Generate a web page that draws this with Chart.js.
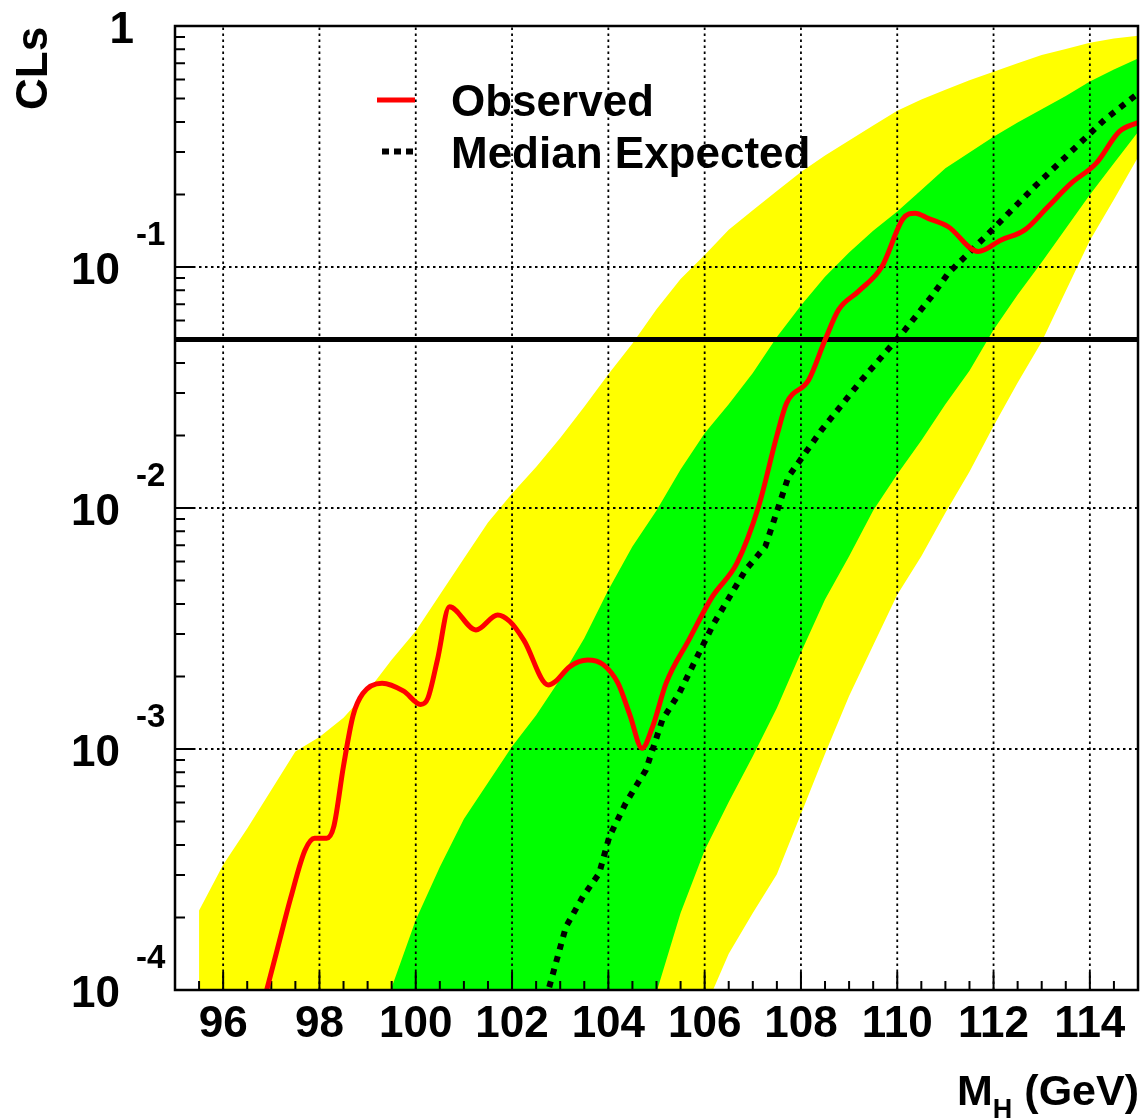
<!DOCTYPE html>
<html>
<head>
<meta charset="utf-8">
<title>CLs vs Higgs mass</title>
<script src="https://cdn.jsdelivr.net/npm/chart.js@4/dist/chart.umd.min.js"></script>
<style>
  html, body { margin: 0; padding: 0; background: #ffffff; }
  #wrap { position: relative; width: 1144px; height: 1119px; }
</style>
</head>
<body>
<div id="wrap"><canvas id="cls"></canvas></div>
<script>
// ---- Data: Higgs mass (GeV) and log10(CLs) ----

// common mass grid for the expected-CLs bands
const bandMass = [95.5, 96, 96.5, 97, 97.5, 98, 98.5, 99, 99.5, 100,
                  100.5, 101, 101.5, 102, 102.5, 103, 103.5, 104, 104.5, 105,
                  105.5, 106, 106.5, 107, 107.5, 108, 108.5, 109, 109.5, 110,
                  110.5, 111, 111.5, 112, 112.5, 113, 113.5, 114, 114.5, 115];

// +-2 sigma band (yellow); -6 means far below the plotted range
const yellowHighLog = [-3.67, -3.48, -3.33, -3.17, -3.01, -2.95, -2.87, -2.76, -2.63, -2.51,
                       -2.36, -2.21, -2.06, -1.94, -1.83, -1.71, -1.58, -1.445, -1.317, -1.175,
                       -1.05, -0.95, -0.845, -0.765, -0.685, -0.606, -0.537, -0.475, -0.413, -0.352,
                       -0.305, -0.265, -0.225, -0.19, -0.155, -0.12, -0.095, -0.07, -0.052, -0.04];
const yellowLowLog  = [-6, -6, -6, -6, -6, -6, -6, -6, -6, -6,
                       -6, -6, -6, -6, -6, -6, -6, -6, -6, -6,
                       -6, -4.08, -3.85, -3.68, -3.52, -3.27, -3.02, -2.78, -2.57, -2.36,
                       -2.20, -2.02, -1.85, -1.66, -1.48, -1.31, -1.10, -0.89, -0.72, -0.545];

// +-1 sigma band (green)
const greenHighLog  = [-6, -6, -6, -6, -6, -6, -6, -4.27, -3.99, -3.71,
                       -3.49, -3.29, -3.14, -2.99, -2.86, -2.71, -2.54, -2.34, -2.16, -2.01,
                       -1.84, -1.69, -1.57, -1.44, -1.29, -1.16, -1.04, -0.94, -0.85, -0.77,
                       -0.68, -0.59, -0.525, -0.46, -0.40, -0.345, -0.29, -0.23, -0.18, -0.135];
const greenLowLog   = [-6, -6, -6, -6, -6, -6, -6, -6, -6, -6,
                       -6, -6, -6, -6, -6, -6, -6, -6, -6, -4.01,
                       -3.68, -3.42, -3.22, -3.03, -2.83, -2.60, -2.38, -2.20, -2.01, -1.86,
                       -1.72, -1.57, -1.43, -1.26, -1.115, -0.98, -0.84, -0.70, -0.57, -0.44];

// observed CLs
const observedMass = [96.8, 97.1, 97.4, 97.7, 97.9, 98.15, 98.3, 98.5, 98.7, 98.9,
                      99.3, 99.75, 100.1, 100.25, 100.45, 100.7, 101.25, 101.7, 101.95, 102.25,
                      102.75, 102.9, 103.2, 103.57, 103.9, 104.2, 104.45, 104.7, 104.92, 105.2,
                      105.67, 106.16, 106.67, 107.12, 107.5, 107.7, 108.16, 108.5, 108.78, 109.2,
                      109.68, 110.12, 110.37, 110.64, 111.06, 111.68, 112.16, 112.65, 113.13, 113.61,
                      114.13, 114.61, 115.0];
const observedLog  = [-4.08, -3.85, -3.62, -3.42, -3.37, -3.37, -3.32, -3.07, -2.86, -2.77,
                      -2.727, -2.76, -2.815, -2.79, -2.63, -2.41, -2.506, -2.444, -2.47, -2.55,
                      -2.734, -2.72, -2.658, -2.631, -2.651, -2.727, -2.86, -2.997, -2.907, -2.727,
                      -2.548, -2.368, -2.229, -1.994, -1.70, -1.566, -1.469, -1.303, -1.178, -1.10,
                      -0.999, -0.80, -0.777, -0.798, -0.833, -0.936, -0.888, -0.846, -0.75, -0.653,
                      -0.570, -0.438, -0.40];

// median expected CLs
const expectedMass = [102.7, 103.12, 103.47, 103.81, 104.02, 104.36, 104.78, 105.12, 105.47, 105.88,
                      106.19, 106.85, 107.26, 107.74, 108.43, 109.26, 110.16, 110.71, 111.06, 112.02,
                      112.85, 113.61, 114.3, 115.0];
const expectedLog  = [-4.04, -3.737, -3.613, -3.516, -3.364, -3.225, -3.087, -2.88, -2.769, -2.603,
                      -2.479, -2.257, -2.16, -1.87, -1.676, -1.469, -1.261, -1.123, -1.026, -0.836,
                      -0.667, -0.521, -0.39, -0.28];

// 95% CL exclusion level
const limitCLs = 0.05;

// axes
const massRange = [95, 115];
const xTickValues = [96, 98, 100, 102, 104, 106, 108, 110, 112, 114];
const xTickLabels = ['96', '98', '100', '102', '104', '106', '108', '110', '112', '114'];
const yDecadeExponents = [0, -1, -2, -3, -4];

// ---- Build the chart ----
const FONT = '"Liberation Sans", Arial, Helvetica, sans-serif';
const toPoints = (xs, logs) => xs.map((m, i) => ({ x: m, y: Math.pow(10, logs[i]) }));

const edge = (label, data) => ({
  label, data, borderWidth: 0, borderColor: 'rgba(0,0,0,0)',
  pointRadius: 0, fill: false
});

// ROOT-style frame, inward ticks, dotted grid, labels and legend
const rootStyle = {
  id: 'rootStyle',
  beforeDatasetsDraw(chart) {
    const { ctx, chartArea: a, scales: { x, y } } = chart;
    ctx.save();
    // dotted grid, drawn over the bands and under the curves
    ctx.strokeStyle = '#000';
    ctx.lineWidth = 1.8;
    ctx.setLineDash([2.5, 3.5]);
    ctx.beginPath();
    xTickValues.forEach(v => {
      const px = x.getPixelForValue(v);
      ctx.moveTo(px, a.bottom); ctx.lineTo(px, a.top);
    });
    yDecadeExponents.forEach(e => {
      if (e === 0 || e === -4) return;
      const py = y.getPixelForValue(Math.pow(10, e));
      ctx.moveTo(a.left, py); ctx.lineTo(a.right, py);
    });
    ctx.stroke();
    ctx.setLineDash([]);

    // inward ticks
    ctx.lineWidth = 2;
    ctx.beginPath();
    for (let v = massRange[0] + 0.5; v < massRange[1]; v += 0.5) {
      const px = x.getPixelForValue(v);
      const len = xTickValues.includes(v) ? 18 : 9;
      ctx.moveTo(px, a.bottom); ctx.lineTo(px, a.bottom - len);
    }
    yDecadeExponents.forEach(e => {
      const py = y.getPixelForValue(Math.pow(10, e));
      ctx.moveTo(a.left, py); ctx.lineTo(a.left + 19, py);
      if (e === 0) return;
      for (let m = 2; m <= 9; m++) {
        const pm = y.getPixelForValue(m * Math.pow(10, e));
        ctx.moveTo(a.left, pm); ctx.lineTo(a.left + 10, pm);
      }
    });
    ctx.stroke();
    ctx.restore();
  },
  afterDatasetsDraw(chart) {
    const { ctx, chartArea: a, scales: { x, y } } = chart;
    ctx.save();
    // frame
    ctx.strokeStyle = '#000';
    ctx.lineWidth = 2.5;
    ctx.strokeRect(a.left, a.top, a.right - a.left, a.bottom - a.top);

    ctx.fillStyle = '#000';
    ctx.textBaseline = 'alphabetic';

    // x tick labels
    ctx.font = `bold 44px ${FONT}`;
    ctx.textAlign = 'center';
    xTickValues.forEach((v, i) => ctx.fillText(xTickLabels[i], x.getPixelForValue(v), a.bottom + 47));

    // y tick labels: 1, 10^-1 ... 10^-4
    yDecadeExponents.forEach(e => {
      const py = y.getPixelForValue(Math.pow(10, e));
      ctx.font = `bold 44px ${FONT}`;
      ctx.textAlign = 'right';
      if (e === 0) {
        ctx.fillText('1', 134, py + 17);
        return;
      }
      ctx.fillText('10', 120, py + 17);
      ctx.font = `bold 33px ${FONT}`;
      ctx.textAlign = 'left';
      ctx.fillText(String(e), 136, py - 22);
    });

    // x axis title: M_H (GeV)
    ctx.textAlign = 'left';
    ctx.font = `bold 43px ${FONT}`;
    const wM = ctx.measureText('M').width;
    const wRest = ctx.measureText(' (GeV)').width;
    ctx.font = `bold 27px ${FONT}`;
    const wH = ctx.measureText('H').width;
    let tx = 1139 - (wM + wH + wRest);
    ctx.font = `bold 43px ${FONT}`;
    ctx.fillText('M', tx, 1105);
    ctx.font = `bold 27px ${FONT}`;
    ctx.fillText('H', tx + wM, 1118);
    ctx.font = `bold 43px ${FONT}`;
    ctx.fillText(' (GeV)', tx + wM + wH, 1105);

    // y axis title
    ctx.save();
    ctx.translate(47, 110);
    ctx.rotate(-Math.PI / 2);
    ctx.font = `bold 44px ${FONT}`;
    ctx.fillText('CLs', 0, 0);
    ctx.restore();

    // legend
    const obs = chart.data.datasets[0];
    const exp = chart.data.datasets[1];
    ctx.lineCap = 'butt';
    ctx.strokeStyle = obs.borderColor;
    ctx.lineWidth = 5;
    ctx.beginPath(); ctx.moveTo(377, 100); ctx.lineTo(415, 100); ctx.stroke();
    ctx.strokeStyle = exp.borderColor;
    ctx.lineWidth = 6;
    ctx.setLineDash([7, 5]);
    ctx.beginPath(); ctx.moveTo(382, 151.5); ctx.lineTo(415, 151.5); ctx.stroke();
    ctx.setLineDash([]);
    ctx.font = `bold 44px ${FONT}`;
    ctx.fillText(obs.label, 451, 116);
    ctx.fillText(exp.label, 451, 168);
    ctx.restore();
  }
};

new Chart(document.getElementById('cls'), {
  type: 'line',
  data: {
    datasets: [
      {
        label: 'Observed',
        data: toPoints(observedMass, observedLog),
        borderColor: '#ff0000', borderWidth: 5, pointRadius: 0,
        cubicInterpolationMode: 'monotone', fill: false
      },
      {
        label: 'Median Expected',
        data: toPoints(expectedMass, expectedLog),
        borderColor: '#000000', borderWidth: 6, borderDash: [6, 7],
        borderCapStyle: 'butt', pointRadius: 0, fill: false
      },
      {
        label: 'CLs = 0.05',
        data: [{ x: massRange[0], y: limitCLs }, { x: massRange[1], y: limitCLs }],
        borderColor: '#000000', borderWidth: 5, pointRadius: 0, fill: false
      },
      edge('-1 sigma', toPoints(bandMass, greenLowLog)),
      Object.assign(edge('+1 sigma', toPoints(bandMass, greenHighLog)),
                    { fill: '-1', backgroundColor: '#00ff00' }),
      edge('-2 sigma', toPoints(bandMass, yellowLowLog)),
      Object.assign(edge('+2 sigma', toPoints(bandMass, yellowHighLog)),
                    { fill: '-1', backgroundColor: '#ffff00' })
    ]
  },
  options: {
    responsive: true,
    maintainAspectRatio: false,
    animation: false,
    events: [],
    layout: { padding: { left: 175, right: 6, top: 26, bottom: 129 } },
    scales: {
      x: { type: 'linear', min: massRange[0], max: massRange[1], display: false },
      y: { type: 'logarithmic', min: 1e-4, max: 1, display: false }
    },
    plugins: {
      legend: { display: false },
      tooltip: { enabled: false },
      filler: { propagate: false, drawTime: 'beforeDatasetsDraw' }
    }
  },
  plugins: [rootStyle]
});
</script>
</body>
</html>
